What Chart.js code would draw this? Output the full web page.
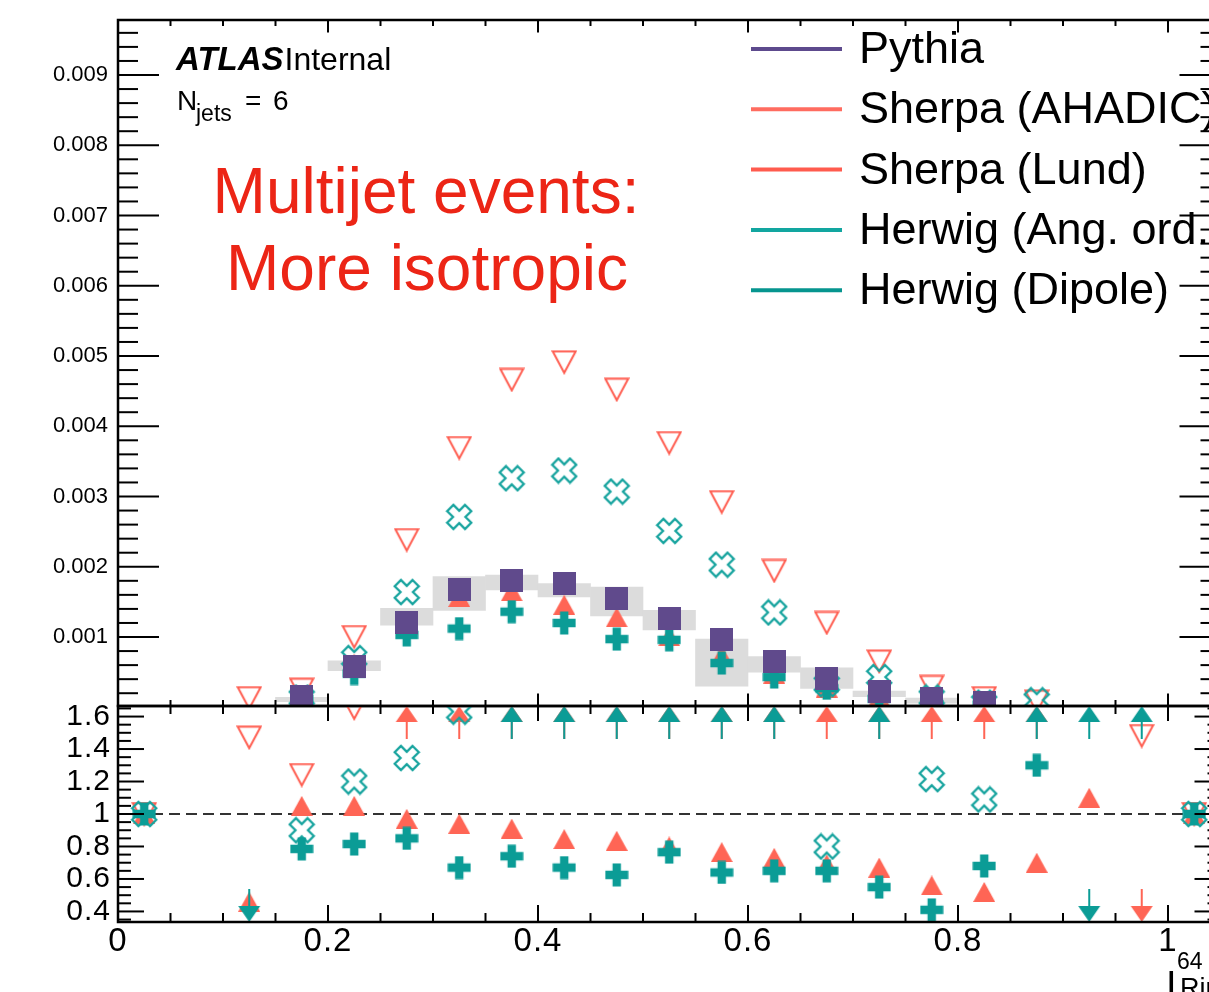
<!DOCTYPE html>
<html>
<head>
<meta charset="utf-8">
<script src="https://cdn.jsdelivr.net/npm/chart.js@4.4.1/dist/chart.umd.min.js"></script>
<style>
  html, body { margin: 0; padding: 0; background: #fff; overflow: hidden; width: 1209px; height: 992px; }
  #wrap { position: relative; width: 1240px; height: 992px; }
  #wrap canvas { position: absolute; left: 0; top: 0; }
</style>
</head>
<body>
<div id="wrap">
  <canvas id="dist" width="1240" height="992"></canvas>
  <canvas id="ratio" width="1240" height="992"></canvas>
</div>
<script>
// ---------- data ----------
const binCenters = [0.025, 0.075, 0.125, 0.175, 0.225, 0.275, 0.325, 0.375, 0.425, 0.475, 0.525,
                    0.575, 0.625, 0.675, 0.725, 0.775, 0.825, 0.875, 0.925, 0.975, 1.025];

// normalised distributions (upper panel)
const pythia       = [null, null, null, 0.000153, 0.000587, 0.00121, 0.00167, 0.00181, 0.00176, 0.00155, 0.00126,
                      0.000967, 0.000658, 0.000412, 0.000221, 0.00012, 0.000062, null, null, null, null];
const pythiaSystLo = [null, null, null, 0.00008, 0.00052, 0.00117, 0.00138, 0.00167, 0.00157, 0.00130, 0.00110,
                      0.00030, 0.00050, 0.00027, 0.00015, 0.00006, null, null, null, null, null];
const pythiaSystHi = [null, null, null, 0.00014, 0.00066, 0.00141, 0.00186, 0.00188, 0.00176, 0.00171, 0.00138,
                      0.00097, 0.00072, 0.00056, 0.00023, 0.00013, null, null, null, null, null];
const sherpaAhadic = [null, null, 0.00013, 0.00025, 0.00100, 0.00238, 0.00369, 0.00466, 0.00491, 0.00452, 0.00376,
                      0.00292, 0.00194, 0.00120, 0.00065, 0.00029, 0.00013, 0.00008, null, null, null];
const sherpaLund   = [null, null, null, 0.00016, 0.00062, 0.00117, 0.00157, 0.00165, 0.00146, 0.00128, 0.00101,
                      0.00074, 0.00048, 0.00028, 0.00015, 0.000066, 0.00003, null, null, null, null];
const herwigAngOrd = [null, null, null, 0.000138, 0.00070, 0.00164, 0.00271, 0.00326, 0.00337, 0.00307, 0.00251,
                      0.00203, 0.00135, 0.00033, 0.00043, 0.00014, 0.000065, 0.0001, null, null, null];
const herwigDipole = [null, null, null, 0.00012, 0.00048, 0.00103, 0.00112, 0.00136, 0.00120, 0.00097, 0.00096,
                      0.00063, 0.00043, 0.00027, 0.00012, 0.000048, 0.00004, null, null, null, null];

// ratios to Pythia (lower panel); values outside the panel range are shown as arrows
const ratioAhadic  = [1, null, 1.47, 1.24, 1.65, 1.97, 2.21, 2.57, 2.79, 2.92, 2.98,
                      3.02, 2.95, 2.91, 2.94, 2.42, 2.10, 2.60, null, 1.48, 1];
const ratioLund    = [1, null, 0.46, 1.05, 1.05, 0.97, 0.94, 0.91, 0.845, 0.835, 0.80,
                      0.765, 0.73, 0.69, 0.67, 0.56, 0.52, 0.70, 1.10, 0.30, 1];
const ratioAngOrd  = [1, null, null, 0.90, 1.20, 1.345, 1.63, 1.80, 1.91, 1.98, 1.99,
                      2.10, 2.05, 0.80, 1.95, 1.215, 1.09, 1.90, 1.90, 1.90, 1];
const ratioDipole  = [1, null, 0.30, 0.785, 0.815, 0.85, 0.67, 0.74, 0.67, 0.625, 0.765,
                      0.64, 0.65, 0.65, 0.55, 0.41, 0.68, 1.30, 0.30, null, 1];

const seriesNames  = ['Pythia', 'Sherpa (AHADIC)', 'Sherpa (Lund)', 'Herwig (Ang. ord.)', 'Herwig (Dipole)'];

// axes
const xRange       = [0, 1.05];
const xMajorTicks  = [0, 0.2, 0.4, 0.6, 0.8, 1.0];
const xTickLabels  = ['0', '0.2', '0.4', '0.6', '0.8', '1'];
const xMinorStep   = 0.05;
const distRange    = [0.000018, 0.009783];
const distMajor    = [0.001, 0.002, 0.003, 0.004, 0.005, 0.006, 0.007, 0.008, 0.009];
const distMinorStep = 0.0002;
const ratioRange   = [0.335, 1.665];
const ratioMajor   = [0.4, 0.6, 0.8, 1.0, 1.2, 1.4, 1.6];
const ratioLabels  = ['0.4', '0.6', '0.8', '1', '1.2', '1.4', '1.6'];
const ratioMinorStep = 0.05;

// ---------- style ----------
const FONT = "'Liberation Sans', Arial, Helvetica, sans-serif";
Chart.defaults.font.family = FONT;
Chart.defaults.color = '#000';

const COL = {
  pythia: '#604a8c', band: '#dcdcdc',
  salmon: '#ff6555', salmonOpen: '#ff5d50',
  teal: '#0b9c96', tealOpen: '#16a39e',
  legend: ['#5d4a8d', '#ff6c60', '#ff5b4e', '#12a6a0', '#06958f'],
  note: '#ec2516'
};

// ---------- marker glyphs ----------
function glyph(w, h, paint) {
  const c = document.createElement('canvas');
  c.width = w; c.height = h;
  paint(c.getContext('2d'), w, h);
  return c;
}
function crossPath(g, cx, cy, L, a, rot) {
  const pts = [[-a,-L],[a,-L],[a,-a],[L,-a],[L,a],[a,a],[a,L],[-a,L],[-a,a],[-L,a],[-L,-a],[-a,-a]];
  const c = Math.cos(rot), s = Math.sin(rot);
  g.beginPath();
  pts.forEach(([x, y], i) => {
    const X = cx + x * c - y * s, Y = cy + x * s + y * c;
    if (i) g.lineTo(X, Y); else g.moveTo(X, Y);
  });
  g.closePath();
}
const squareGlyph = col => glyph(23, 23, (g, w, h) => { g.fillStyle = col; g.fillRect(0, 0, w, h); });
const triUpGlyph = col => glyph(22, 20, (g, w, h) => {
  g.fillStyle = col; g.beginPath(); g.moveTo(w / 2, 0); g.lineTo(w, h); g.lineTo(0, h); g.closePath(); g.fill();
});
const triDownOpenGlyph = col => glyph(26, 25, (g, w, h) => {
  g.strokeStyle = col; g.lineWidth = 2;
  g.beginPath(); g.moveTo(1.5, 1.5); g.lineTo(w - 1.5, 1.5); g.lineTo(w / 2, h - 2); g.closePath(); g.stroke();
});
const plusGlyph = col => glyph(24, 24, g => { g.fillStyle = col; crossPath(g, 12, 12, 11.5, 4.2, 0); g.fill(); });
const xOpenGlyph = col => glyph(28, 28, g => {
  g.strokeStyle = col; g.lineWidth = 2.3; crossPath(g, 14, 14, 12.6, 4.4, Math.PI / 4); g.stroke();
});
// arrow whose tip sits at the glyph centre (used for out-of-range ratios)
const arrowGlyph = (col, up) => glyph(24, 68, (g, w, h) => {
  const c = h / 2, d = up ? 1 : -1;
  g.fillStyle = col; g.strokeStyle = col; g.lineWidth = 2;
  g.beginPath(); g.moveTo(w / 2, c); g.lineTo(w / 2 + 11, c + d * 16); g.lineTo(w / 2 - 11, c + d * 16); g.closePath(); g.fill();
  g.beginPath(); g.moveTo(w / 2, c + d * 15); g.lineTo(w / 2, c + d * 33); g.stroke();
});

const G = {
  square: squareGlyph(COL.pythia),
  ahadic: triDownOpenGlyph(COL.salmonOpen),
  lund: triUpGlyph(COL.salmon),
  angOrd: xOpenGlyph(COL.tealOpen),
  dipole: plusGlyph(COL.teal)
};

// ---------- helpers ----------
const points = vals => binCenters.map((x, i) => vals[i] == null ? null : { x, y: vals[i] }).filter(Boolean);
const bandPoints = binCenters.map((x, i) => pythiaSystLo[i] == null ? null : { x, y: [pythiaSystLo[i], pythiaSystHi[i]] }).filter(Boolean);
const ratioPoints = vals => binCenters.map((x, i) => vals[i] == null ? null :
  { x, y: Math.min(Math.max(vals[i], ratioRange[0]), ratioRange[1]), v: vals[i] }).filter(Boolean);

function markerSet(label, data, style, order) {
  return { label, data, pointStyle: style, pointRadius: 12, showLine: false, order, clip: 0 };
}
function ratioSet(label, vals, style, col, order) {
  const up = arrowGlyph(col, true), down = arrowGlyph(col, false);
  return {
    label, data: ratioPoints(vals), showLine: false, order, clip: 0, pointRadius: 12,
    pointStyle: ctx => {
      const r = ctx.raw;
      if (!r) return style;
      if (r.v > ratioRange[1]) return up;
      if (r.v < ratioRange[0]) return down;
      return style;
    }
  };
}
function minorTicks(lo, hi, step, majors) {
  const out = [];
  for (let k = Math.ceil(lo / step - 1e-6); k * step <= hi + 1e-9; k++) {
    const v = +(k * step).toFixed(6);
    if (!majors.some(m => Math.abs(m - v) < 1e-9)) out.push(v);
  }
  return out;
}
function line(ctx, x1, y1, x2, y2) { ctx.beginPath(); ctx.moveTo(x1, y1); ctx.lineTo(x2, y2); ctx.stroke(); }

// ROOT-style frame with inward ticks on all four sides
function drawFrame(chart, t) {
  const { ctx, chartArea: a } = chart;
  const xs = chart.scales.x, ys = chart.scales.y;
  ctx.save();
  ctx.strokeStyle = '#000';
  ctx.lineWidth = 2;
  const xMin = minorTicks(xRange[0], 1.0, xMinorStep, xMajorTicks);
  xMajorTicks.forEach(v => { const p = xs.getPixelForValue(v);
    line(ctx, p, a.bottom, p, a.bottom - t.xBotMajor); line(ctx, p, a.top, p, a.top + t.xTopMajor); });
  xMin.forEach(v => { const p = xs.getPixelForValue(v);
    line(ctx, p, a.bottom, p, a.bottom - t.xBotMinor); line(ctx, p, a.top, p, a.top + t.xTopMinor); });
  t.yMajor.forEach(v => { const p = ys.getPixelForValue(v);
    line(ctx, a.left, p, a.left + t.yMajorLen, p); line(ctx, a.right, p, a.right - t.yMajorLen, p); });
  t.yMinor.forEach(v => { const p = ys.getPixelForValue(v);
    line(ctx, a.left, p, a.left + t.yMinorLen, p); line(ctx, a.right, p, a.right - t.yMinorLen, p); });
  ctx.lineWidth = 2.5;
  ctx.strokeRect(a.left, a.top, a.right - a.left, a.bottom - a.top);
  ctx.restore();
}

// ---------- upper panel ----------
const distDecor = {
  id: 'distDecor',
  afterDatasetsDraw(chart) {
    const ctx = chart.ctx;
    ctx.save();
    ctx.fillStyle = '#000';
    ctx.textBaseline = 'alphabetic';
    ctx.textAlign = 'left';
    // experiment label
    ctx.font = `italic bold 33px ${FONT}`;
    ctx.fillText('ATLAS', 176, 70);
    const w = ctx.measureText('ATLAS').width;
    ctx.font = `32px ${FONT}`;
    ctx.fillText('Internal', 176 + w + 1, 70);
    // jet multiplicity
    ctx.font = `28px ${FONT}`;
    ctx.fillText('N', 177, 110);
    ctx.font = `23px ${FONT}`;
    ctx.fillText('jets', 196, 121);
    ctx.font = `28px ${FONT}`;
    ctx.fillText('=', 245, 110);
    ctx.fillText('6', 273, 110);
    // annotation
    ctx.fillStyle = COL.note;
    ctx.textAlign = 'center';
    ctx.font = `64px ${FONT}`;
    ctx.fillText('Multijet events:', 426, 213);
    ctx.fillText('More isotropic', 427, 290);
    // legend
    ctx.textAlign = 'left';
    ctx.font = `45px ${FONT}`;
    seriesNames.forEach((name, i) => {
      const y = 49 + i * 60.3;
      ctx.strokeStyle = COL.legend[i];
      ctx.lineWidth = 4;
      line(ctx, 751, y, 842, y);
      ctx.fillStyle = '#000';
      ctx.fillText(name, 859, y + 14);
    });
    ctx.restore();
    drawFrame(chart, {
      xBotMajor: 12.5, xBotMinor: 6, xTopMajor: 12.5, xTopMinor: 6,
      yMajor: distMajor, yMinor: minorTicks(distMinorStep, 0.0096, distMinorStep, distMajor),
      yMajorLen: 41, yMinorLen: 20
    });
  }
};

new Chart(document.getElementById('dist'), {
  type: 'scatter',
  data: {
    datasets: [
      { type: 'bar', label: 'Pythia syst.', data: bandPoints, backgroundColor: COL.band, borderWidth: 0,
        barPercentage: 1, categoryPercentage: 1, grouped: false, order: 10, clip: 0 },
      markerSet(seriesNames[1], points(sherpaAhadic), G.ahadic, 5),
      markerSet(seriesNames[2], points(sherpaLund), G.lund, 4),
      markerSet(seriesNames[3], points(herwigAngOrd), G.angOrd, 3),
      markerSet(seriesNames[4], points(herwigDipole), G.dipole, 2),
      markerSet(seriesNames[0], points(pythia), G.square, 1)
    ]
  },
  options: {
    responsive: false, animation: false, devicePixelRatio: 1, events: [],
    layout: { padding: { left: 0, top: 20, right: 19.5, bottom: 286 } },
    plugins: { legend: { display: false }, tooltip: { enabled: false } },
    scales: {
      x: { type: 'linear', min: xRange[0], max: xRange[1], display: false, offset: false,
           afterBuildTicks: s => { s.ticks = xMajorTicks.map(v => ({ value: v })); } },
      y: { type: 'linear', min: distRange[0], max: distRange[1],
           grid: { display: false, drawTicks: false }, border: { display: false },
           ticks: { autoSkip: false, padding: 10, font: { size: 22 }, color: '#000', callback: v => v.toFixed(3) },
           afterBuildTicks: s => { s.ticks = distMajor.map(v => ({ value: v })); },
           afterFit: s => { s.width = 118; s.paddingTop = 0; s.paddingBottom = 0; } }
    }
  },
  plugins: [distDecor]
});

// ---------- lower panel ----------
function spacedLabels(px) {
  return scale => {
    if (scale._spaced) return;
    const orig = scale.drawLabels;
    scale.drawLabels = function (area) {
      const c = this.ctx, prev = c.letterSpacing;
      c.letterSpacing = px + 'px';
      orig.call(this, area);
      c.letterSpacing = prev;
    };
    scale._spaced = true;
  };
}

const ratioDecor = {
  id: 'ratioDecor',
  beforeDatasetsDraw(chart) {
    const { ctx, chartArea: a } = chart;
    const y1 = chart.scales.y.getPixelForValue(1);
    ctx.save();
    ctx.strokeStyle = '#333';
    ctx.lineWidth = 2;
    ctx.setLineDash([11, 6]);
    line(ctx, a.left, y1, a.right, y1);
    ctx.restore();
  },
  afterDatasetsDraw(chart) {
    drawFrame(chart, {
      xBotMajor: 17, xBotMinor: 9, xTopMajor: 15, xTopMinor: 8,
      yMajor: ratioMajor, yMinor: minorTicks(0.35, 1.65, ratioMinorStep, ratioMajor),
      yMajorLen: 26, yMinorLen: 13
    });
    const ctx = chart.ctx;
    ctx.save();
    ctx.fillStyle = '#000';
    ctx.textAlign = 'left';
    ctx.textBaseline = 'alphabetic';
    ctx.font = `38px ${FONT}`;
    ctx.fillText('I', 1166, 998);
    ctx.font = `23px ${FONT}`;
    ctx.fillText('64', 1177, 969);
    ctx.font = `27px ${FONT}`;
    ctx.fillText('Ring', 1180, 997);
    ctx.restore();
  }
};

new Chart(document.getElementById('ratio'), {
  type: 'scatter',
  data: {
    datasets: [
      ratioSet(seriesNames[1], ratioAhadic, G.ahadic, COL.salmon, 5),
      ratioSet(seriesNames[2], ratioLund, G.lund, COL.salmon, 4),
      ratioSet(seriesNames[3], ratioAngOrd, G.angOrd, COL.teal, 3),
      ratioSet(seriesNames[4], ratioDipole, G.dipole, COL.teal, 2)
    ]
  },
  options: {
    responsive: false, animation: false, devicePixelRatio: 1, events: [],
    layout: { padding: { left: 0, top: 706, right: 19.5, bottom: 0 } },
    plugins: { legend: { display: false }, tooltip: { enabled: false } },
    scales: {
      x: { type: 'linear', min: xRange[0], max: xRange[1], offset: false,
           grid: { display: false, drawTicks: false }, border: { display: false },
           ticks: { autoSkip: false, maxRotation: 0, padding: 0, font: { size: 33 }, color: '#000',
                    callback: (v, i) => xTickLabels[i] },
           afterBuildTicks: s => { s.ticks = xMajorTicks.map(v => ({ value: v })); },
           afterFit: s => { s.height = 70; s.paddingLeft = 0; s.paddingRight = 0; },
           afterUpdate: spacedLabels(1) },
      y: { type: 'linear', min: ratioRange[0], max: ratioRange[1],
           grid: { display: false, drawTicks: false }, border: { display: false },
           ticks: { autoSkip: false, padding: 7, font: { size: 30 }, color: '#000',
                    callback: (v, i) => ratioLabels[i] },
           afterBuildTicks: s => { s.ticks = ratioMajor.map(v => ({ value: v })); },
           afterFit: s => { s.width = 118; s.paddingTop = 0; s.paddingBottom = 0; },
           afterUpdate: spacedLabels(1) }
    }
  },
  plugins: [ratioDecor]
});
</script>
</body>
</html>
